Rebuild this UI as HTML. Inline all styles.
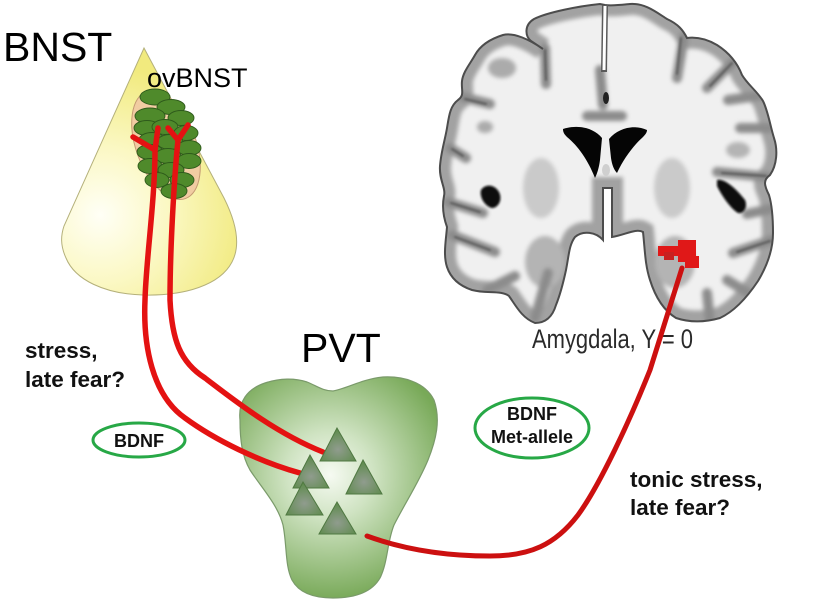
<!DOCTYPE html>
<html><head><meta charset="utf-8"><style>
html,body{margin:0;padding:0;background:#fff;}
svg{display:block;}
text{font-family:"Liberation Sans",Arial,sans-serif;}
</style></head><body>
<svg width="815" height="600" viewBox="0 0 815 600" xmlns="http://www.w3.org/2000/svg">
<defs>
<radialGradient id="cone" cx="100" cy="215" r="150" gradientUnits="userSpaceOnUse">
<stop offset="0" stop-color="#fffff6"/><stop offset="0.45" stop-color="#fbf8c4"/><stop offset="1" stop-color="#f1ea7e"/>
</radialGradient>
<radialGradient id="pvt" cx="330" cy="475" r="125" gradientUnits="userSpaceOnUse">
<stop offset="0" stop-color="#f6faf2"/><stop offset="0.35" stop-color="#cfe3c2"/><stop offset="1" stop-color="#78a958"/>
</radialGradient>
<radialGradient id="tri" cx="0.5" cy="0.65" r="0.6">
<stop offset="0" stop-color="#909c8e"/><stop offset="1" stop-color="#5f8b4e"/>
</radialGradient>
<filter id="bl" x="-10%" y="-10%" width="120%" height="120%"><feGaussianBlur stdDeviation="2.2"/></filter>
<filter id="bl1"><feGaussianBlur stdDeviation="1"/></filter>
<clipPath id="bc"><path id="brainp" d="M600,4 C580,6 548,12 534,19 C524,25 525,36 531,41 L543,49 C530,40 514,32 503,35 C490,39 480,46 475,55 C470,64 463,72 462,81 C461,90 465,95 458,100 C450,106 449,116 447,128 C445,140 441,152 440,166 C439,180 446,188 444,196 C442,206 443,216 447,227 C446,240 443,255 447,267 C451,279 460,286 472,290 C487,294 501,290 509,296 C516,306 522,318 535,323 C547,323 553,315 556,305 C560,295 563,284 566,270 C569,255 569,245 575,237 C583,230 596,232 603,240 L603,188 L612,188 L612,237 C625,235 636,228 643,232 C645,250 645,265 650,280 C655,296 663,310 676,318 C691,323 706,322 720,318 C735,311 748,296 758,281 C767,266 773,250 773,233 C773,216 772,205 769,195 C764,185 763,180 770,175 C777,165 778,150 774,138 C770,125 768,111 763,101 C757,91 748,85 742,75 C737,62 728,52 717,45 C705,38 695,37 687,38 C683,30 678,24 667,19 C656,12 645,3 630,4 C620,5 612,6 605,5 Z"/></clipPath>
</defs>

<!-- BNST cone -->
<path d="M144,48 L224,198 C236,222 241,245 232,262 C220,285 185,296 143,295 C105,294 75,280 66,258 C60,245 61,235 64,226 Z" fill="url(#cone)" stroke="#b4b07a" stroke-width="1"/>

<!-- ovBNST oval -->
<ellipse cx="166" cy="145" rx="30" ry="57" transform="rotate(-20 166 145)" fill="#f1cca2" stroke="#c49a72" stroke-width="1"/>
<g fill="#4f8a2b" stroke="#2e5a1b" stroke-width="0.9">
<ellipse cx="155" cy="97" rx="15" ry="8"/>
<ellipse cx="171" cy="107" rx="14" ry="7.5"/>
<ellipse cx="150" cy="116" rx="15" ry="8"/>
<ellipse cx="181" cy="118" rx="13" ry="7.5"/>
<ellipse cx="147" cy="128" rx="13" ry="7.5"/>
<ellipse cx="165" cy="127" rx="13" ry="7.5"/>
<ellipse cx="186" cy="133" rx="12" ry="7.5"/>
<ellipse cx="152" cy="140" rx="13" ry="7.5"/>
<ellipse cx="170" cy="142" rx="13" ry="7.5"/>
<ellipse cx="189" cy="148" rx="12" ry="7.5"/>
<ellipse cx="150" cy="152" rx="13" ry="7.5"/>
<ellipse cx="168" cy="156" rx="13" ry="7.5"/>
<ellipse cx="189" cy="161" rx="12" ry="7.5"/>
<ellipse cx="150" cy="166" rx="12" ry="7.5"/>
<ellipse cx="171" cy="170" rx="13" ry="7.5"/>
<ellipse cx="157" cy="180" rx="12" ry="7.5"/>
<ellipse cx="182" cy="180" rx="12" ry="7.5"/>
<ellipse cx="174" cy="191" rx="13" ry="7.5"/>
</g>

<text x="3" y="61" font-size="41" fill="#000">BNST</text>
<text x="147" y="87" font-size="27" fill="#000">ovBNST</text>

<!-- PVT -->
<path d="M240,420 C238,402 247,389 265,383 C280,378 295,378 307,382 C317,386 323,391 333,391 C346,389 362,379 383,377 C403,376 425,382 434,400 C441,420 436,440 428,460 C419,482 404,505 394,525 C387,542 388,562 380,578 C372,592 355,598 333,598 C314,598 299,593 292,580 C285,566 287,545 283,525 C278,505 261,487 250,470 C242,456 240,440 240,420 Z" fill="url(#pvt)" stroke="#7a9a6a" stroke-width="1.2"/>
<text x="301" y="362" font-size="41" fill="#000">PVT</text>

<!-- red projections from ovBNST -->
<g fill="none" stroke="#e41212" stroke-width="5.5" stroke-linecap="round" stroke-linejoin="round">
<path d="M133,137 L155,150 L158,128"/>
<path d="M155,150 C155,200 146,260 145,300 C143,345 152,395 185,418 C215,440 260,462 300,473"/>
<path d="M168,128 L178,140 L188,125"/>
<path d="M178,140 C174,180 170,250 170,300 C172,340 180,362 205,378 C240,405 280,435 323,452"/>
</g>

<!-- triangles -->
<g fill="url(#tri)" stroke="#4f7841" stroke-width="1">
<polygon points="337,428 320,461 356,461"/>
<polygon points="310,455 293,488 329,488"/>
<polygon points="363,460 346,494 382,494"/>
<polygon points="303,482 286,515 323,515"/>
<polygon points="337,502 319,534 356,534"/>
</g>

<!-- brain -->
<use href="#brainp" fill="#f0f0f0"/>
<g clip-path="url(#bc)">
<g filter="url(#bl)">
<use href="#brainp" fill="none" stroke="#a2a2a2" stroke-width="22"/>
<ellipse cx="541" cy="188" rx="18" ry="30" fill="#cacaca"/>
<ellipse cx="672" cy="188" rx="18" ry="30" fill="#cacaca"/>
<ellipse cx="545" cy="262" rx="20" ry="26" fill="#b4b4b4"/>
<ellipse cx="675" cy="262" rx="20" ry="26" fill="#b4b4b4"/>
<ellipse cx="502" cy="68" rx="14" ry="10" fill="#ababab"/>
<ellipse cx="485" cy="127" rx="8" ry="6" fill="#ababab"/>
<ellipse cx="738" cy="150" rx="12" ry="8" fill="#b4b4b4"/>
<g fill="none" stroke="#8c8c8c" stroke-width="10" stroke-linecap="round">
<path d="M545,48 L546,84"/>
<path d="M462,97 L490,104"/>
<path d="M450,148 L466,158"/>
<path d="M448,202 L483,213"/>
<path d="M452,235 L495,252"/>
<path d="M487,290 L515,276"/>
<path d="M535,318 L548,273"/>
<path d="M684,36 L677,78"/>
<path d="M735,60 L707,88"/>
<path d="M764,95 L728,100"/>
<path d="M770,128 L740,128"/>
<path d="M768,177 L717,172"/>
<path d="M775,208 L747,214"/>
<path d="M772,240 L733,253"/>
<path d="M750,294 L727,280"/>
<path d="M710,322 L707,293"/>
<path d="M600,70 L603,105"/>
<path d="M587,116 L622,116"/>
</g>
</g>
<g fill="none" stroke="#5a5a5a" stroke-width="2" stroke-linecap="round" filter="url(#bl1)">
<path d="M545,50 L546,80"/>
<path d="M465,99 L486,104"/>
<path d="M452,149 L463,156"/>
<path d="M451,203 L480,212"/>
<path d="M455,237 L490,250"/>
<path d="M681,38 L677,74"/>
<path d="M732,63 L710,86"/>
<path d="M766,176 L722,173"/>
<path d="M770,241 L737,252"/>
</g>
</g>
<use href="#brainp" fill="none" stroke="#4c4c4c" stroke-width="2"/>
<!-- midline fissure -->
<path d="M605,5 L604,72" stroke="#5a5a5a" stroke-width="6" fill="none"/>
<path d="M605,6 L604,70" stroke="#fff" stroke-width="3" fill="none"/>
<!-- ventricles -->
<path d="M563,129 C578,124 594,128 602,138 L600,160 C599,168 597,174 595,178 C588,160 578,146 567,137 C564,134 563,132 563,129 Z" fill="#050505"/>
<path d="M647,130 C634,124 618,128 609,139 L611,158 C612,165 614,170 617,173 C624,158 634,145 643,137 C646,134 647,132 647,130 Z" fill="#050505"/>
<ellipse cx="606" cy="170" rx="4" ry="6" fill="#cfcfcf"/>
<ellipse cx="606" cy="98" rx="3" ry="6" fill="#222"/>
<!-- insula dark spots -->
<path d="M481,190 C486,183 495,185 499,192 C503,200 498,208 492,208 C486,207 479,198 481,190 Z" fill="#0a0a0a" filter="url(#bl1)"/>
<path d="M717,180 C725,178 737,190 745,200 C748,207 744,214 738,213 C730,208 722,196 717,186 Z" fill="#0a0a0a" filter="url(#bl1)"/>
<!-- amygdala activation -->
<g fill="#e01818">
<rect x="658" y="246" width="22" height="10"/>
<rect x="678" y="240" width="18" height="22"/>
<rect x="685" y="256" width="14" height="12"/>
<rect x="664" y="252" width="10" height="8" fill="#c82020"/>
</g>

<text x="532" y="348" font-size="27" fill="#2a2a2a" textLength="161" lengthAdjust="spacingAndGlyphs">Amygdala, Y = 0</text>

<!-- PVT to amygdala -->
<path d="M367,536 C400,548 440,556 490,556 C530,556 555,545 578,515 C600,485 630,420 650,370 L682,268" fill="none" stroke="#cc1010" stroke-width="5" stroke-linecap="round"/>

<!-- labels -->
<g font-weight="bold" fill="#111">
<text x="25" y="358" font-size="22.5">stress,</text>
<text x="25" y="387" font-size="22.5">late fear?</text>
<text x="630" y="487" font-size="22.5">tonic stress,</text>
<text x="630" y="515" font-size="22.5">late fear?</text>
</g>
<ellipse cx="139" cy="440" rx="46" ry="17" fill="none" stroke="#27a846" stroke-width="3"/>
<text x="139" y="447" font-size="18" font-weight="bold" text-anchor="middle" fill="#111">BDNF</text>
<ellipse cx="532" cy="428" rx="57" ry="30" fill="none" stroke="#27a846" stroke-width="3"/>
<text x="532" y="420" font-size="18" font-weight="bold" text-anchor="middle" fill="#111">BDNF</text>
<text x="532" y="443" font-size="18" font-weight="bold" text-anchor="middle" fill="#111">Met-allele</text>
</svg>
</body></html>
